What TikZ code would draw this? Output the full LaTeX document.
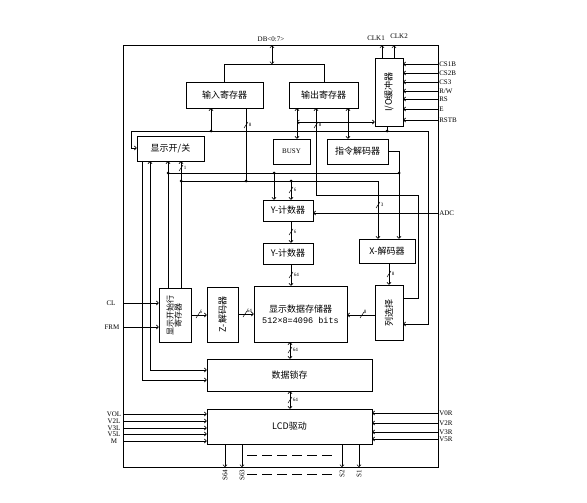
\documentclass[tikz,border=0pt]{standalone}
\usepackage{fontspec}
\usepackage{graphicx}
\setmainfont{Liberation Serif}
\newfontfamily\cjk{Noto Sans CJK SC}
\newfontfamily\monof{Liberation Mono}
\usetikzlibrary{arrows.meta}

\tikzset{
  blk/.style={draw, line width=0.7pt, inner sep=1pt, align=center, font=\cjk\fontsize{9}{12}\selectfont},
  sig/.style={inner sep=0.5pt, font=\fontsize{7}{8}\selectfont},
  bw/.style={inner sep=0pt, font=\fontsize{5}{5}\selectfont},
}
\newcommand\busv[3]{\draw[line width=0.5pt] (#1,#2) ++(-2,3) -- ++(4,-6); \node[bw, anchor=west] (bw-#1-#2) at (#1+2.5,#2-0.5) {#3};}
\newcommand\bush[3]{\draw[line width=0.5pt] (#1,#2) ++(-2,3) -- ++(4,-6); \node[bw, anchor=south west] (bw-#1-#2) at (#1+1.5,#2-1.5) {#3};}

\begin{document}
\begin{tikzpicture}[x=1pt, y=-1pt, line width=0.6pt, >={To[length=2.6pt,width=4.6pt]}]
    \useasboundingbox (0,0) rectangle (587,503);
    \coordinate (TL) at (123,45);
    \coordinate (BR) at (438,467);
    \draw[line width=0.8pt] (TL) rectangle (BR);

    \node[blk, minimum width=77pt, minimum height=26pt] (inreg) at (224.5,95) {输入寄存器};
    \node[blk, minimum width=69pt, minimum height=26pt] (outreg) at (323.5,95) {输出寄存器};
    \node[blk, minimum width=28pt, minimum height=68pt] (iobuf) at (389,92) {\rotatebox{90}{I/O缓冲器}};
    \node[blk, minimum width=67pt, minimum height=25pt] (dispsw) at (170.5,148.5) {显示开/关};
    \node[blk, minimum width=37pt, minimum height=25pt, font=\fontsize{7}{8}\selectfont] (busy) at (291.5,151.5) {BUSY};
    \node[blk, minimum width=61pt, minimum height=25pt] (instdec) at (357.5,151.5) {指令解码器};
    \node[blk, minimum width=50pt, minimum height=21pt] (ycnt) at (288,210.5) {Y-计数器};
    \node[blk, minimum width=50pt, minimum height=21pt] (xcnt) at (288,253.5) {Y-计数器};
    \node[blk, minimum width=56pt, minimum height=24pt] (xdec) at (387,251) {X-解码器};
    \node[blk, minimum width=28pt, minimum height=55pt] (colsel) at (389,312.5) {\rotatebox{90}{列选择}};
    \node[blk, minimum width=93pt, minimum height=56pt] (ram) at (300.5,314) {显示数据存储器\\[-1pt]{\monof\fontsize{8.5}{9}\selectfont 512×8=4096 bits}};
    \node[blk, minimum width=31pt, minimum height=55pt] (zdec) at (222.5,314.5) {\rotatebox{90}{Z-解码器}};
    \node[blk, minimum width=32pt, minimum height=54pt, font=\cjk\fontsize{8}{10}\selectfont] (startreg) at (175,315) {\rotatebox{90}{\begin{tabular}{@{}c@{}}显示开始行\\[-2pt]寄存器\end{tabular}}};
    \node[blk, minimum width=165pt, minimum height=32pt] (latch) at (289.5,375) {数据锁存};
    \node[blk, minimum width=165pt, minimum height=35pt] (lcd) at (289.5,426.5) {LCD驱动};

    \node[sig] (db) at (271,39) {DB<0:7>};
    \draw[<->] (272,45.5) -- (272,64);
    \draw (inreg.north -| 224,0) -- (224,64) -- (324,64) -- (outreg.north -| 324,0);

    \node[sig] (clk1) at (376,38) {CLK1};
    \node[sig] (clk2) at (399,36) {CLK2};
    \draw[->] (iobuf.north -| 382,0) -- (382,45.5);
    \draw[->] (iobuf.north -| 394,0) -- (394,45.5);

    \foreach \nm/\yy [count=\i] in {CS1B/64, CS2B/73, CS3/82, R\slash W/91, RS/99, E/109, RSTB/120} {
        \draw[->] (438,\yy) -- (iobuf.east |- 0,\yy);
        \node[sig, anchor=west] (pin\i) at (438.5,\yy) {\nm};
    }

    \draw (iobuf.south -| 387,0) -- (387,131);
    \draw[->] (387,131) -- (428,131) -- (428,324) -- (colsel.east |- 0,324);
    \draw[->] (387,131) -- (131,131) -- (131,148) -- (dispsw.west |- 0,148);
    \draw[->] (211,131) -- (inreg.south -| 211,0);
    \draw (inreg.south -| 246,0) -- (246,181);
    \busv{246}{125}{8}

    \draw[<->] (outreg.south -| 297,0) -- (busy.north -| 297,0);
    \draw[<->] (outreg.south -| 348,0) -- (instdec.north -| 348,0);
    \draw[->] (colsel.east |- 0,298) -- (418,298) -- (418,195) -- (316,195) -- (outreg.south -| 316,0);
    \draw[<->] (297,122) -- (iobuf.west |- 0,122);
    \busv{316}{125}{8}

    \draw[->] (instdec.east |- 0,151) -- (399,151) -- (xdec.north -| 399,0);
    \draw (168,173) -- (399,173);
    \draw[->] (274,173) -- (ycnt.north -| 274,0);
    \draw[->] (181,181) -- (378,181) -- (xdec.north -| 378,0);
    \busv{378}{205}{3}
    \draw[->] (291,181) -- (ycnt.north -| 291,0);
    \busv{291}{190}{6}

    \draw[->] (dispsw.south -| 142,0) -- (142,380) -- (latch.west |- 0,380);
    \draw[<->] (dispsw.south -| 150,0) -- (150,370) -- (latch.west |- 0,370);
    \draw[<-] (dispsw.south -| 168,0) -- (startreg.north -| 168,0);
    \draw[<-] (dispsw.south -| 181,0) -- (startreg.north -| 181,0);
    \busv{181}{168}{1}

    \foreach \p in {(211,131),(387,131),(246,181),(291,181),(181,181),(168,173),(274,173),(399,173)}
        \fill \p circle (1.5pt);

    \node[sig] (cl) at (111,303) {CL};
    \node[sig] (frm) at (112,327) {FRM};
    \draw[->] (123,303) -- (startreg.west |- 0,303);
    \draw[->] (123,327) -- (startreg.west |- 0,327);
    \node[sig, anchor=west] (adc) at (438.5,213) {ADC};
    \draw[->] (438,213) -- (ycnt.east |- 0,213);

    \draw[->] (ycnt.south -| 291,0) -- (xcnt.north -| 291,0);
    \busv{291}{232}{6}
    \draw[->] (xcnt.south -| 291,0) -- (ram.north -| 291,0);
    \busv{291}{275}{64}
    \draw[->] (xdec.south -| 389,0) -- (colsel.north -| 389,0);
    \busv{389}{274}{8}
    \draw[->] (colsel.west |- 0,315) -- (ram.east |- 0,315);
    \bush{362}{315}{8}
    \draw[->] (startreg.east |- 0,315) -- (zdec.west |- 0,315);
    \bush{198}{315}{6}
    \draw[->] (zdec.east |- 0,314) -- (ram.west |- 0,314);
    \bush{245}{314}{64}
    \draw[<->] (ram.south -| 290,0) -- (latch.north -| 290,0);
    \busv{290}{350}{64}
    \draw[<->] (latch.south -| 290,0) -- (lcd.north -| 290,0);
    \busv{290}{400}{64}

    \foreach \nm/\yy [count=\i] in {VOL/414, V2L/421, V3L/428, V5L/434, M/441} {
        \draw[->] (123,\yy) -- (lcd.west |- 0,\yy);
        \node[sig] (lin\i) at (114,\yy) {\nm};
    }
    \foreach \nm/\yy [count=\i] in {V0R/413, V2R/423, V3R/432, V5R/439} {
        \draw[->] (438,\yy) -- (lcd.east |- 0,\yy);
        \node[sig, anchor=west] (rin\i) at (438.5,\yy) {\nm};
    }
    \foreach \nm/\xx [count=\i] in {S64/225, S63/242, S2/342, S1/359} {
        \draw[->] (lcd.south -| \xx,0) -- (\xx,467);
        \node[sig, rotate=90, anchor=east] (out\i) at (\xx,469) {\nm};
    }
    \draw[dash pattern=on 10pt off 5pt] (247,455) -- (333,455);
    \draw[dash pattern=on 10pt off 5pt] (247,474) -- (335,474);
\end{tikzpicture}
\end{document}
